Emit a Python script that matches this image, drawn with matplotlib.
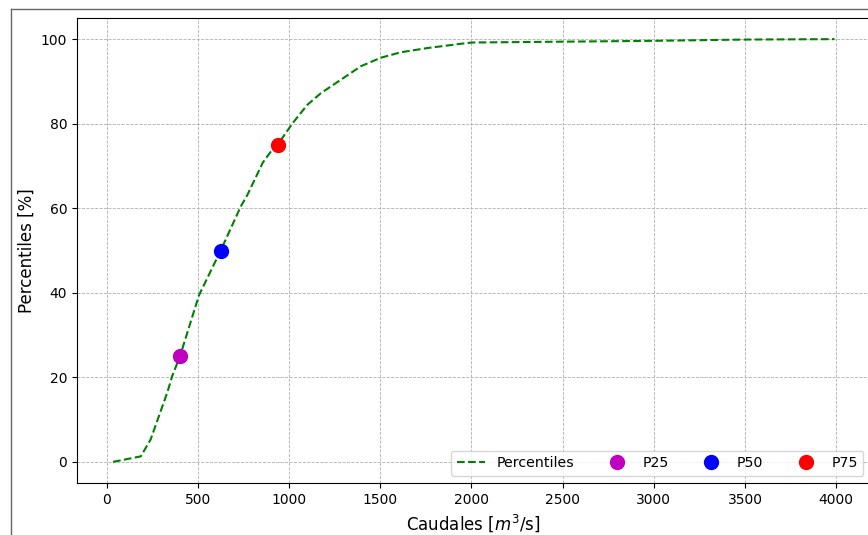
import matplotlib
matplotlib.use("Agg")
import matplotlib.pyplot as plt
from matplotlib.lines import Line2D

# Curve of percentiles (caudal m3/s vs percentile %)
caudales = [35, 187, 241, 287, 333, 360, 402, 506, 625, 735, 772, 856, 900, 942,
            1019, 1101, 1174, 1284, 1394, 1503, 1613, 1760, 1942, 2003,
            2500, 3000, 3500, 3990]
percentiles = [0, 1.3, 5.3, 10.9, 16.5, 20.4, 25, 39.4, 50, 60.4, 63.2, 70.8,
               73.4, 75.3, 80.1, 84.5, 87.2, 90.4, 93.6, 95.6, 96.9, 97.9, 98.9,
               99.2, 99.4, 99.6, 99.9, 100]

# Marked percentiles
p_labels = ["P25", "P50", "P75"]
p_caudal = [400, 625, 942]
p_value = [25, 50, 75]
p_colors = ["m", "b", "r"]

W, H = 868, 535
fig = plt.figure(figsize=(W / 100, H / 100), dpi=100)
ax = fig.add_axes([77 / W, 1 - 483 / H, (870.5 - 77) / W, (483 - 18) / H])

ax.plot(caudales, percentiles, "--", color="g", linewidth=1.5, label="Percentiles")
for lab, xc, yv, c in zip(p_labels, p_caudal, p_value, p_colors):
    ax.plot([xc], [yv], "o", color=c, markersize=10, label=lab)

ax.grid(True, linestyle="--", linewidth=0.6, color="#b0b0b0")
ax.set_xlabel("Caudales [$m^3$/s]", fontsize=12)
ax.set_ylabel("Percentiles [%]", fontsize=12)
ax.set_xticks([0, 500, 1000, 1500, 2000, 2500, 3000, 3500, 4000])
ax.set_yticks([0, 20, 40, 60, 80, 100])
ax.tick_params(labelsize=10)
ax.legend(loc="lower right", ncol=4, fontsize=10.2)

# outer frame of the screenshot
fx = 10.5 / W
fy = 1 - 8.5 / H
fig.add_artist(Line2D([fx, fx], [0, fy], transform=fig.transFigure, color="#666666", linewidth=1.0))
fig.add_artist(Line2D([fx, 1], [fy, fy], transform=fig.transFigure, color="#666666", linewidth=1.0))

fig.savefig("out.png", dpi=100)
